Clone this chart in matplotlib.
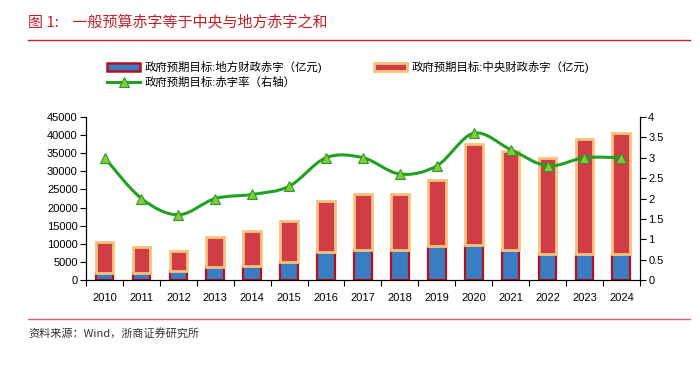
import matplotlib
matplotlib.use('Agg')
import matplotlib.pyplot as plt
import numpy as np
from matplotlib.path import Path
from matplotlib.patches import PathPatch, Patch
from matplotlib.lines import Line2D

plt.rcParams['font.family'] = ['Liberation Sans', 'Noto Sans CJK SC', 'DejaVu Sans']

# data
years = ['2010', '2011', '2012', '2013', '2014', '2015', '2016', '2017',
         '2018', '2019', '2020', '2021', '2022', '2023', '2024']
local_deficit = [2000, 2000, 2500, 3500, 4000, 5000, 7800, 8300,
                 8300, 9300, 9800, 8200, 7200, 7200, 7200]
central_deficit = [8500, 7000, 5500, 8500, 9500, 11200, 14000, 15500,
                   15500, 18300, 27800, 27500, 26500, 31600, 33400]
deficit_rate = [3.0, 2.0, 1.6, 2.0, 2.1, 2.3, 3.0, 3.0,
                2.6, 2.8, 3.6, 3.2, 2.8, 3.0, 3.0]

label_local = '政府预期目标:地方财政赤字（亿元)'
label_central = '政府预期目标:中央财政赤字（亿元)'
label_rate = '政府预期目标:赤字率（右轴）'

c_blue = '#3b7dc4'
c_red = '#d23c44'
c_tan = '#f3c47e'
c_darkred = '#b3101c'
c_green = '#22a022'
c_marker = '#8cc63f'
c_title = '#c0202a'


def smooth_path(x, y):
    # Catmull-Rom spline turned into cubic bezier segments
    x = np.asarray(x, float)
    y = np.asarray(y, float)
    px = np.concatenate([[x[0]], x, [x[-1]]])
    py = np.concatenate([[y[0]], y, [y[-1]]])
    verts = [(x[0], y[0])]
    codes = [Path.MOVETO]
    for i in range(1, len(x)):
        p0 = np.array([px[i - 1], py[i - 1]])
        p1 = np.array([px[i], py[i]])
        p2 = np.array([px[i + 1], py[i + 1]])
        p3 = np.array([px[i + 2], py[i + 2]])
        c1 = p1 + (p2 - p0) / 6.0
        c2 = p2 - (p3 - p1) / 6.0
        verts += [tuple(c1), tuple(c2), tuple(p2)]
        codes += [Path.CURVE4] * 3
    return Path(verts, codes)


fig = plt.figure(figsize=(7, 3.7), dpi=100)
ax = fig.add_axes([0.123, 0.243, 0.791, 0.441])
ax2 = ax.twinx()

xs = np.arange(len(years))
w = 0.48
ax.bar(xs, local_deficit, w, color=c_blue, edgecolor=c_darkred, linewidth=1.6, zorder=2)
ax.bar(xs, central_deficit, w, bottom=local_deficit, color=c_red,
       edgecolor=c_tan, linewidth=2.0, zorder=2)

ax2.add_patch(PathPatch(smooth_path(xs, deficit_rate), facecolor='none',
                        edgecolor=c_green, linewidth=2.2, zorder=3))
ax2.plot(xs, deficit_rate, linestyle='none', marker='^', markersize=7,
         markerfacecolor=c_marker, markeredgecolor=c_green, markeredgewidth=0.8, zorder=4)

ax.set_xlim(-0.5, len(years) - 0.5)
ax.set_ylim(0, 45000)
ax.set_yticks(np.arange(0, 45001, 5000))
ax2.set_ylim(0, 4)
ax2.set_yticks(np.arange(0, 4.01, 0.5))
ax2.set_yticklabels(['0', '0.5', '1', '1.5', '2', '2.5', '3', '3.5', '4'])

ax.set_xticks(xs)
ax.set_xticklabels(years)
ax.set_xticks(np.arange(-0.5, len(years), 1), minor=True)
ax.tick_params(axis='x', which='major', length=0, pad=9, labelsize=8)
ax.tick_params(axis='x', which='minor', length=4, width=0.8, direction='out')
ax.tick_params(axis='y', length=4, width=0.8, direction='out', labelsize=8, pad=2)
ax2.tick_params(axis='y', length=4, width=0.8, direction='out', labelsize=8, pad=2)

for a in (ax, ax2):
    a.spines['top'].set_visible(False)
    for s in ('left', 'right', 'bottom'):
        a.spines[s].set_linewidth(0.8)

handles = [
    Patch(facecolor=c_blue, edgecolor=c_darkred, linewidth=1.8),
    Line2D([0], [0], color=c_green, linewidth=2.2, marker='^', markersize=7,
           markerfacecolor=c_marker, markeredgecolor=c_green, markeredgewidth=0.8),
    Patch(facecolor=c_red, edgecolor=c_tan, linewidth=2.0),
]
fig.legend(handles, [label_local, label_rate, label_central], ncol=2,
           loc='upper left', bbox_to_anchor=(0.153, 0.835), frameon=False,
           fontsize=8.2, handlelength=2.9, handleheight=0.6, handletextpad=0.35,
           columnspacing=4.6, labelspacing=0.3, borderpad=0, borderaxespad=0)

fig.text(0.04, 0.94, '图 1:    一般预算赤字等于中央与地方赤字之和', color=c_title,
         fontsize=10.8, ha='left', va='center', family=['Noto Sans CJK SC', 'DejaVu Sans'])
fig.add_artist(Line2D([0.04, 0.985], [0.892, 0.892], color=c_title, linewidth=1.0))
fig.add_artist(Line2D([0.04, 0.985], [0.138, 0.138], color='#e06070', linewidth=1.0))
fig.text(0.04, 0.1, '资料来源：Wind，浙商证券研究所', color='#333333', fontsize=8,
         ha='left', va='center', family=['Noto Sans CJK SC', 'DejaVu Sans'])

fig.savefig('out.png', dpi=100)
